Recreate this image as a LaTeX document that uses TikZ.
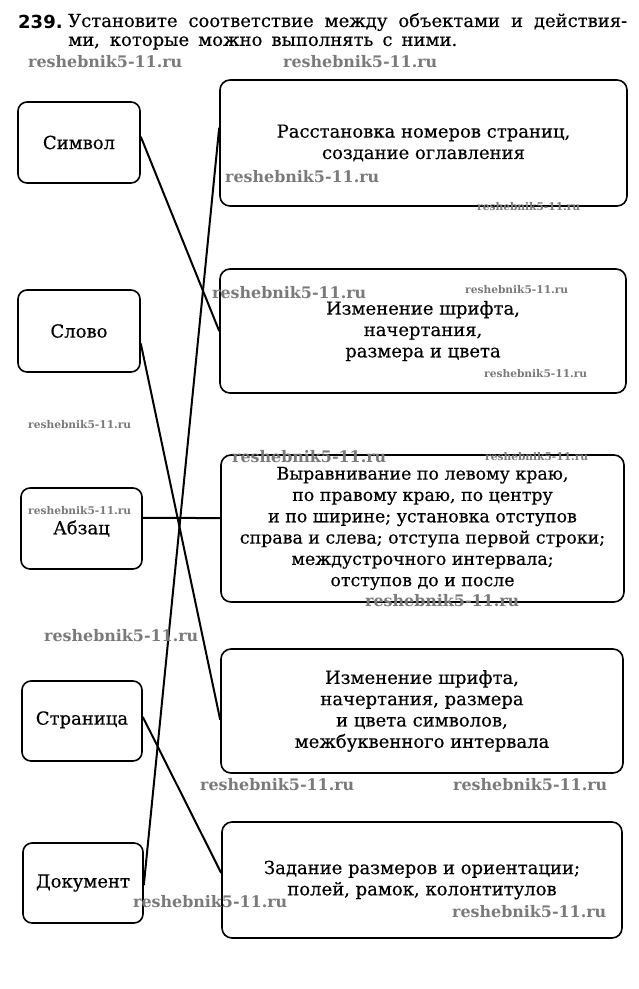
\documentclass[tikz,border=0pt]{standalone}
\usepackage{fontspec}
\setmainfont[FakeBold=0.35]{DejaVu Serif}
\newfontfamily\numfont{DejaVu Sans}
\newfontfamily\wmfont{DejaVu Serif}
\usetikzlibrary{calc}
\newcommand\wmtext{reshebnik5-11.ru}
\newcommand\wmL{\resizebox{154pt}{!}{\wmfont\bfseries\wmtext}}
\newcommand\wmS{\resizebox{103pt}{!}{\wmfont\bfseries\wmtext}}
\begin{document}
\begin{tikzpicture}[x=1pt,y=-1pt,
  bodyfont/.style={font=\fontsize{18}{21.3}\selectfont},
  lbox/.style={draw, line width=1.6pt, rounded corners=9pt, bodyfont, inner sep=0pt},
  rbox/.style={draw, line width=1.6pt, rounded corners=10pt, bodyfont, align=center, inner sep=0pt},
  conn/.style={line width=2pt},
  wm/.style={anchor=west, inner sep=0pt, text=black!52},
  ttl/.style={anchor=west, inner sep=0pt, bodyfont}]
\useasboundingbox[fill=white] (0,0) rectangle (639,989);

% title
\node[anchor=west, inner sep=0pt, font=\numfont\bfseries\fontsize{18}{20}\selectfont] (num) at (18,22) {239.};
\node[ttl] (t1) at (68,22) {\makebox[559pt][s]{Установите соответствие между объектами и действия-}};
\node[ttl] (t2) at (68,43) {\makebox[389pt][s]{ми, которые можно выполнять с ними.}};

% left boxes
\node[lbox, minimum width=122pt, minimum height=81pt] (simv) at (79,142.5) {Символ};
\node[lbox, minimum width=122pt, minimum height=82pt] (slovo) at (79,331) {Слово};
\node[lbox, minimum width=121pt, minimum height=81pt] (abz) at (81.5,528.5) {\raisebox{-5pt}{Абзац}};
\node[lbox, minimum width=120pt, minimum height=80pt] (str) at (82,721) {\raisebox{6pt}{Страница}};
\node[lbox, minimum width=120pt, minimum height=80pt] (doc) at (83,883) {Документ};

% right boxes
\node[rbox, minimum width=407pt, minimum height=126pt] (b1) at (423.5,143) {Расстановка номеров страниц,\\создание оглавления};
\node[rbox, minimum width=406pt, minimum height=124pt] (b2) at (423,331) {Изменение шрифта,\\начертания,\\размера и цвета};
\node[rbox, minimum width=403pt, minimum height=147pt, font=\fontsize{17.4}{21.3}\selectfont] (b3) at (422.5,528.5) {Выравнивание по левому краю,\\по правому краю, по центру\\и по ширине; установка отступов\\справа и слева; отступа первой строки;\\междустрочного интервала;\\отступов до и после};
\node[rbox, minimum width=402pt, minimum height=124pt] (b4) at (422,711) {Изменение шрифта,\\начертания, размера\\и цвета символов,\\межбуквенного интервала};
\node[rbox, minimum width=400pt, minimum height=116pt] (b5) at (422,880) {Задание размеров и ориентации;\\полей, рамок, колонтитулов};

% connectors
\draw[conn] ($(simv.north east)!0.43!(simv.south east)$) -- (b2.west);
\draw[conn] ($(slovo.north east)!0.65!(slovo.south east)$) -- ($(b4.north west)!0.57!(b4.south west)$);
\draw[conn] ($(abz.north east)!0.37!(abz.south east)$) -- ($(b3.north west)!0.43!(b3.south west)$);
\draw[conn] ($(str.north east)!0.45!(str.south east)$) -- ($(b5.north west)!0.44!(b5.south west)$);
\draw[conn] ($(doc.north east)!0.525!(doc.south east)$) -- ($(b1.north west)!0.38!(b1.south west)$);

% watermarks
\node[wm] (w1) at (28,62) {\wmL};
\node[wm] (w2) at (283,62) {\wmL};
\node[wm] (w3) at (225,177) {\wmL};
\node[wm] (w4) at (477,207) {\wmS};
\node[wm] (w5) at (212,293) {\wmL};
\node[wm] (w6) at (465,290) {\wmS};
\node[wm] (w7) at (484,374) {\wmS};
\node[wm] (w8) at (28,425) {\wmS};
\node[wm] (w9) at (232,457) {\wmL};
\node[wm] (w10) at (485,457) {\wmS};
\node[wm] (w11) at (28,511) {\wmS};
\node[wm] (w12) at (365,601) {\wmL};
\node[wm] (w13) at (44,636) {\wmL};
\node[wm] (w14) at (200,785) {\wmL};
\node[wm] (w15) at (453,785) {\wmL};
\node[wm] (w16) at (133,902) {\wmL};
\node[wm] (w17) at (452,912) {\wmL};
\end{tikzpicture}
\end{document}
